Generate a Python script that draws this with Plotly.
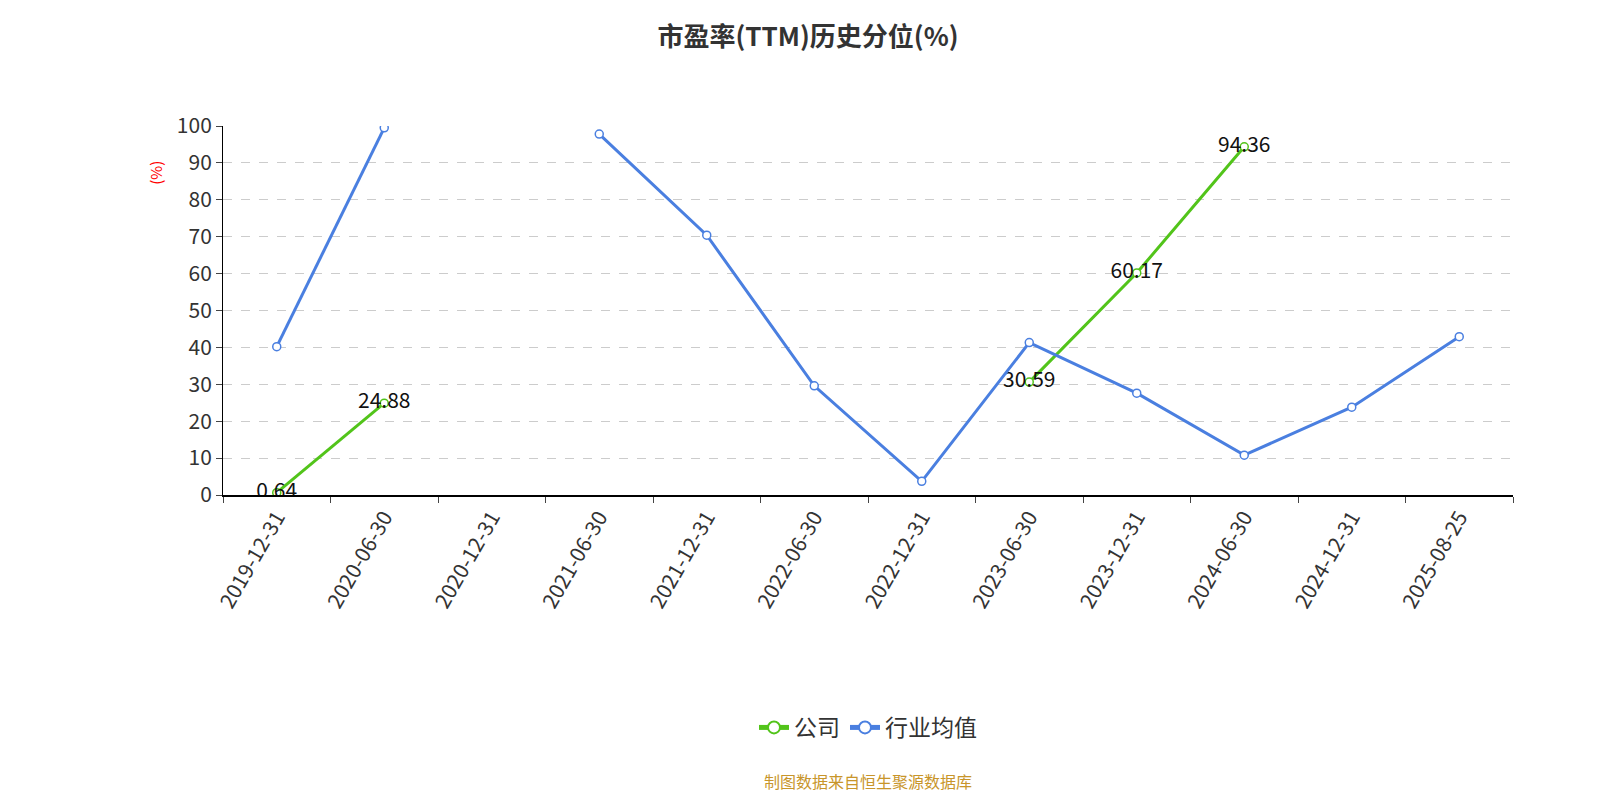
import plotly.graph_objects as go

dates = ["2019-12-31","2020-06-30","2020-12-31","2021-06-30","2021-12-31","2022-06-30",
         "2022-12-31","2023-06-30","2023-12-31","2024-06-30","2024-12-31","2025-08-25"]
company = [0.64, 24.88, None, None, None, None, None, 30.59, 60.17, 94.36, None, None]
industry = [40.2, 99.5, None, 97.8, 70.4, 29.6, 3.7, 41.3, 27.6, 10.8, 23.8, 42.9]

F = "Noto Sans CJK SC"
fig = go.Figure()
fig.add_trace(go.Scatter(x=dates, y=company, name="公司", mode="lines+markers+text",
    line=dict(color="#52c41a", width=3), marker=dict(size=8, color="white", line=dict(color="#52c41a", width=1.5)),
    text=[f"{v:.2f}" if v is not None else "" for v in company], textposition="middle center",
    textfont=dict(size=21, color="#111", family=F), connectgaps=False))
fig.add_trace(go.Scatter(x=dates, y=industry, name="行业均值", mode="lines+markers",
    line=dict(color="#4a7fe0", width=3), marker=dict(size=8, color="white", line=dict(color="#4a7fe0", width=1.5)),
    connectgaps=False))
fig.update_layout(
    width=1600, height=800, plot_bgcolor="white", paper_bgcolor="white",
    margin=dict(l=215, r=95, t=118, b=313),
    font=dict(family=F, size=18, color="#333"),
    title=dict(text="<b>市盈率(TTM)历史分位(%)</b>", x=0.5, xanchor="center", y=0.975, yanchor="top",
               font=dict(size=26, color="#333", family=F)),
    xaxis=dict(type="category", tickangle=-60, tickson="boundaries", ticks="outside", ticklen=6,
               showline=True, linecolor="#000", linewidth=1.5, showgrid=False, range=[-0.5, 11.5],
               tickfont=dict(size=21, color="#333")),
    yaxis=dict(range=[0, 100], dtick=10, ticks="outside", ticklen=6, showline=True, linecolor="#000",
               linewidth=1, gridcolor="#ccc", griddash="dash", zeroline=False,
               tickfont=dict(size=21, color="#333")),
    legend=dict(orientation="h", x=0.5, xanchor="center", y=-0.63, yanchor="middle",
                font=dict(size=23, color="#333"), itemsizing="constant"),
    annotations=[
        dict(text="(%)", textangle=-90, x=-0.062, y=0.91, xref="paper", yref="paper", showarrow=False,
             font=dict(size=15, color="red")),
        dict(text="制图数据来自恒生聚源数据库", x=0.5, y=-0.775, xref="paper", yref="paper",
             yanchor="middle", showarrow=False, font=dict(size=16, color="#c8952a")),
    ])
fig.write_html("out.html")
